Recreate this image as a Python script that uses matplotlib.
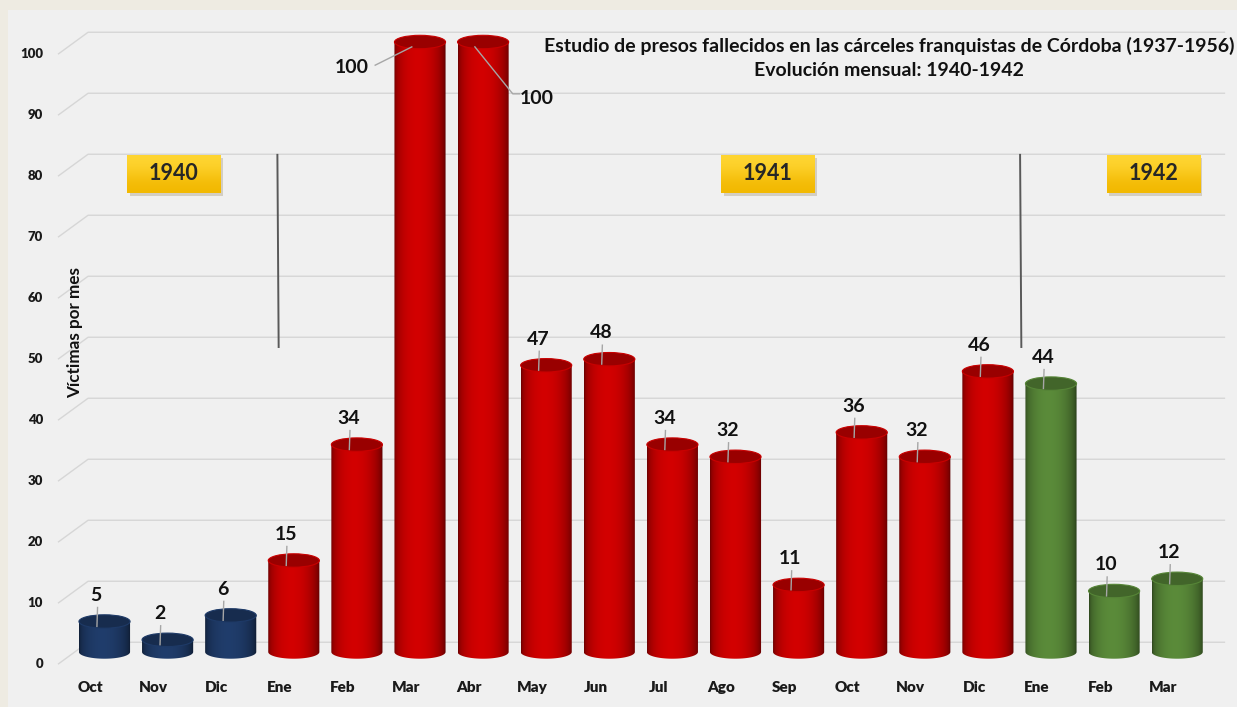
import numpy as np
import matplotlib.pyplot as plt
from matplotlib.patches import Ellipse, Rectangle, PathPatch
from matplotlib.path import Path
from matplotlib.colors import to_rgb

plt.rcParams['font.family'] = ['Lato', 'DejaVu Sans']

# datos
meses = ['Oct', 'Nov', 'Dic', 'Ene', 'Feb', 'Mar', 'Abr', 'May', 'Jun',
         'Jul', 'Ago', 'Sep', 'Oct', 'Nov', 'Dic', 'Ene', 'Feb', 'Mar']
victimas = [5, 2, 6, 15, 34, 100, 100, 47, 48, 34, 32, 11, 36, 32, 46, 44, 10, 12]
anios = [1940] * 3 + [1941] * 12 + [1942] * 3
yticks = list(range(0, 101, 10))
titulo = 'Estudio de presos fallecidos en las cárceles franquistas de Córdoba (1937-1956)'
subtitulo = 'Evolución mensual: 1940-1942'

colores = {1940: '#203d6c', 1941: '#d40000', 1942: '#5b8c3a'}

W, H = 1237, 707
fig = plt.figure(figsize=(W / 100, H / 100), dpi=100)
fig.patch.set_facecolor('#eeebe2')
fig.patches.append(Rectangle((8 / W, 0), 1, 1 - 10 / H, transform=fig.transFigure,
                             fc='#f0f0f0', ec='none', zorder=-5))

ax = fig.add_axes([0, 0, 1, 1])
ax.set_axis_off()
ax.set_autoscale_on(False)
x0, dx = 104.5, 63.1      # centro de la primera barra y paso, en px
y0, dy = 652, 6.1         # base de las barras y px por unidad
ax.set_xlim(-x0 / dx, (W - x0) / dx)
ax.set_ylim(-(H - y0) / dy, y0 / dy)

# rejilla con su pared de fondo
gx_front, gx_back, gx_end = -0.737, -0.26, 17.76
for v in yticks:
    ax.plot([gx_front, gx_back, gx_end], [v - 2.0, v + 1.6, v + 1.6],
            color='#d6d6d6', lw=1, zorder=1, solid_capstyle='butt')
    ax.text(-0.975, v - 2.0, str(v), ha='right', va='center', fontsize=9.5,
            fontweight='heavy', color='#1a1a1a')


def sombreado(base, n=64):
    t = np.linspace(0, 1, n)
    f = 0.5 + 0.55 * np.sin(np.pi * t) ** 0.45 - 0.12 * t
    c = np.array(to_rgb(base))
    return np.clip(c[None, :] * f[:, None], 0, 1)[None, :, :]


def cilindro(x, h, base, w=0.81, eh=2.2):
    th = np.linspace(np.pi, 2 * np.pi, 40)
    pts = [(x - w / 2, h)] + [(x + w / 2 * np.cos(a), eh / 2 * np.sin(a)) for a in th] + [(x + w / 2, h), (x - w / 2, h)]
    codes = [Path.MOVETO] + [Path.LINETO] * (len(pts) - 2) + [Path.CLOSEPOLY]
    cuerpo = PathPatch(Path(pts, codes), fc='none', ec='none', zorder=3)
    ax.add_patch(cuerpo)
    im = ax.imshow(sombreado(base), extent=[x - w / 2, x + w / 2, -eh / 2, h],
                   aspect='auto', interpolation='bicubic', zorder=3)
    im.set_clip_path(cuerpo)
    c = np.array(to_rgb(base))
    ax.add_patch(Ellipse((x, h), w, eh, fc=c * 0.72, ec=np.clip(c * 0.95, 0, 1),
                         lw=0.8, zorder=4))


for i, (v, a) in enumerate(zip(victimas, anios)):
    cilindro(i, v, colores[a])
    ax.text(i - 0.22, -5.9, meses[i], ha='center', va='center', fontsize=11,
            fontweight='heavy', color='#1a1a1a')

# etiquetas de valor con su línea guía
especiales = {
    5: dict(txt=(-1.08, -4.1), linea=[(-0.71, -3.8), (-0.13, -0.8)]),
    6: dict(txt=(0.854, -9.2), linea=[(-0.13, -0.8), (0.47, -8.5), (0.58, -8.5)]),
}
for i, v in enumerate(victimas):
    if i in especiales:
        e = especiales[i]
        tx, ty = i + e['txt'][0], v + e['txt'][1]
        lx = [i + p[0] for p in e['linea']]
        ly = [v + p[1] for p in e['linea']]
    else:
        tx, ty = i - 0.13, v + 4.3
        lx, ly = [i - 0.11, i - 0.12], [v + 2.3, v - 0.8]
    ax.plot(lx, ly, color='#a6a6a6', lw=1, zorder=5)
    ax.text(tx, ty, str(v), ha='center', va='center', fontsize=14,
            fontweight='bold', color='#111111', zorder=6)

# separadores entre años
for xs in (2.75, 14.52):
    ax.plot([xs - 0.01, xs + 0.01], [81.5, 50.0], color='#595959', lw=1.4, zorder=2)

# recuadros de los años
cajas = [(1940, 1.10), (1941, 10.51), (1942, 16.62)]
for anio, cx in cajas:
    bw, bh, cy = 1.48, 6.2, 78.4
    ax.add_patch(Rectangle((cx - bw / 2 + 0.04, cy - bh / 2 - 0.5), bw, bh,
                           fc='#b8ad98', ec='none', alpha=0.5, zorder=5))
    caja = Rectangle((cx - bw / 2, cy - bh / 2), bw, bh, fc='none', ec='none', zorder=6)
    ax.add_patch(caja)
    grad = np.array([to_rgb('#ffd633'), to_rgb('#f2b800')])[:, None, :]
    im = ax.imshow(grad, extent=[cx - bw / 2, cx + bw / 2, cy - bh / 2, cy + bh / 2],
                   aspect='auto', interpolation='bicubic', origin='upper', zorder=6)
    im.set_clip_path(caja)
    ax.text(cx, cy, str(anio), ha='center', va='center', fontsize=15.5,
            fontweight='bold', color='#262626', zorder=7)

# títulos
fig.text(889 / W, 1 - 46 / H, titulo, ha='center', va='center', fontsize=14,
         fontweight='bold', color='#111111')
fig.text(889 / W, 1 - 71 / H, subtitulo, ha='center', va='center', fontsize=14,
         fontweight='bold', color='#111111')
fig.text(75 / W, 1 - 333 / H, 'Víctimas por mes', rotation=90, ha='center',
         va='center', fontsize=12.3, fontweight='bold', color='#111111')

fig.savefig('out.png', dpi=100, facecolor=fig.get_facecolor())
